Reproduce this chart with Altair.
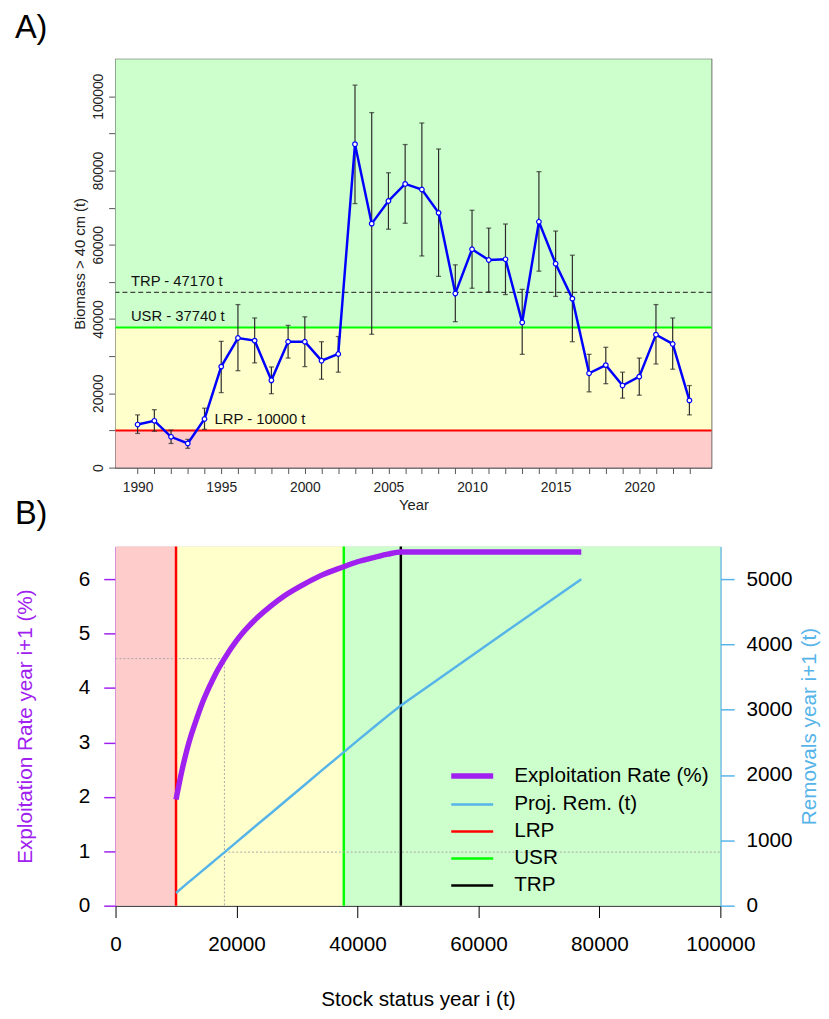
import altair as alt
import pandas as pd

FONT = "Liberation Sans"

# ---------------- Panel A data ----------------
years = list(range(1990, 2024))
biomass = [11600, 12600, 8300, 6500, 13100, 27200, 34900, 34200, 23500, 33900,
           33900, 28800, 30600, 87100, 65700, 71800, 76400, 74900, 68600, 46900,
           58800, 55900, 56100, 39100, 66200, 54900, 45500, 25400, 27600, 22100,
           24500, 35800, 33300, 18100]
upper = [14200, 15600, 10100, 7600, 16000, 34000, 43900, 40300, 27100, 38300,
         40600, 33900, 35300, 103000, 95600, 79400, 87000, 92800, 85800, 54600,
         69300, 64500, 65600, 48000, 79700, 63700, 57200, 30500, 32400, 25700,
         29500, 43900, 40300, 22100]
lower = [9200, 9800, 6500, 5200, 10300, 20200, 26100, 28200, 19900, 29500,
         27200, 23800, 25700, 71100, 35900, 64200, 65800, 57000, 51500, 39300,
         48300, 47300, 46600, 30500, 52900, 46100, 33900, 20400, 22600, 18700,
         19500, 27900, 26500, 14200]

ref_names = ["LRP", "USR", "TRP"]
ref_values = [10000, 37740, 47170]
ref_label_year = [1994.6, 1989.6, 1989.6]

zone_names = ["Critical", "Cautious", "Healthy"]
zone_colors = ["#FFCCCC", "#FFFFCC", "#CCFFCC"]

# ---------------- Panel B data ----------------
stock = [10000, 11070, 12430, 13000, 14330, 15500, 16500, 18000, 20000, 21400,
         23500, 25700, 28000, 31200, 34000, 37740, 40000, 43100, 45000, 47170,
         55000, 65000, 77000]
expl_rate = [1.95, 2.53, 3.11, 3.30, 3.72, 4.02, 4.25, 4.54, 4.87, 5.06,
             5.30, 5.51, 5.70, 5.91, 6.07, 6.23, 6.32, 6.41, 6.46, 6.50,
             6.50, 6.50, 6.50]
removals = [195, 280, 387, 429, 533, 623, 701, 817, 974, 1083,
            1246, 1416, 1596, 1844, 2064, 2351, 2528, 2763, 2907, 3066,
            3575, 4225, 5000]
guide_stock = [18000]
guide_rate = [4.54]
guide_removal = [820]

series_names = ["Exploitation Rate (%)", "Proj. Rem. (t)", "LRP", "USR", "TRP"]
series_colors = ["#A020F0", "#56B4E9", "#FF0000", "#00FF00", "#000000"]
series_widths = [5.5, 2.5, 2.5, 2.5, 2.5]

PURPLE = "#A020F0"
LBLUE = "#56B4E9"
A_YMAX = 110000
B_XMAX = 100000

# ---------------- tables ----------------
dfA = pd.DataFrame({"Year": years, "Biomass": biomass, "Upper": upper, "Lower": lower})
df_ref = pd.DataFrame({"series": ref_names, "value": ref_values, "lab_year": ref_label_year})
df_ref["label"] = df_ref["series"] + " - " + df_ref["value"].astype(str) + " t"
df_bandA = pd.DataFrame({"zone": zone_names,
                         "lo": [0, ref_values[0], ref_values[1]],
                         "hi": [ref_values[0], ref_values[1], A_YMAX]})
df_bandB = pd.DataFrame({"zone": zone_names,
                         "lo": [0, ref_values[0], ref_values[1]],
                         "hi": [ref_values[0], ref_values[1], B_XMAX]})
df_rate = pd.DataFrame({"stock": stock, "rate": expl_rate, "series": series_names[0]})
df_rem = pd.DataFrame({"stock": stock, "removal": removals, "series": series_names[1]})
df_guide = pd.DataFrame({"stock": guide_stock, "rate": guide_rate, "removal": guide_removal,
                         "x0": [0], "x1": [B_XMAX], "y0": [0]})

zone_fill = alt.Fill("zone:N", scale=alt.Scale(domain=zone_names, range=zone_colors), legend=None)

# ---------------- Panel A ----------------
xA_scale = alt.Scale(domain=[1988.68, 2024.32], nice=False, zero=False)
yA_scale = alt.Scale(domain=[0, A_YMAX], nice=False)
xA_axis = alt.Axis(title="Year", values=years, format="d",
                   labelExpr="datum.value % 5 == 0 ? datum.label : ''",
                   labelOverlap=False, labelFlush=False, tickSize=6, tickColor="#555555",
                   domainColor="#555555", labelFontSize=14, titleFontSize=15,
                   labelPadding=7, titlePadding=3, labelColor="#222222", titleColor="#222222")
yA_axis = alt.Axis(title="Biomass > 40 cm (t)", values=list(range(0, 110000, 10000)), format="d",
                   labelExpr="datum.value % 20000 == 0 ? datum.label : ''",
                   labelOverlap=False, labelAngle=270, labelAlign="center", labelBaseline="bottom",
                   tickSize=7, tickColor="#555555", domainColor="#555555",
                   labelFontSize=14, titleFontSize=15, labelPadding=3, titlePadding=4,
                   labelColor="#222222", titleColor="#222222")


def xA(field):
    return alt.X(field, type="quantitative", scale=xA_scale, axis=xA_axis)


def yA(field):
    return alt.Y(field, type="quantitative", scale=yA_scale, axis=yA_axis)


bandsA = alt.Chart(df_bandA).mark_rect().encode(y=yA("lo"), y2="hi", fill=zone_fill)
lrp_rule = alt.Chart(df_ref).transform_filter("datum.series == 'LRP'").mark_rule(
    strokeWidth=2, color="#FF0000").encode(y=yA("value"))
usr_rule = alt.Chart(df_ref).transform_filter("datum.series == 'USR'").mark_rule(
    strokeWidth=2, color="#00FF00").encode(y=yA("value"))
trp_rule = alt.Chart(df_ref).transform_filter("datum.series == 'TRP'").mark_rule(
    strokeWidth=1.2, strokeDash=[5, 3], color="#444444").encode(y=yA("value"))
labelsA = alt.Chart(df_ref).mark_text(align="left", baseline="alphabetic", dy=-7, fontSize=15,
                                      color="#111111").encode(
    x=xA("lab_year"), y=yA("value"), text="label:N")
errbars = alt.Chart(dfA).mark_rule(color="#2b2b2b", strokeWidth=1.2).encode(
    x=xA("Year"), y=yA("Lower"), y2="Upper")
cap_hi = alt.Chart(dfA).mark_tick(orient="horizontal", size=5, thickness=1.3, color="#2b2b2b").encode(
    x=xA("Year"), y=yA("Upper"))
cap_lo = alt.Chart(dfA).mark_tick(orient="horizontal", size=5, thickness=1.3, color="#2b2b2b").encode(
    x=xA("Year"), y=yA("Lower"))
lineA = alt.Chart(dfA).mark_line(color="#0000FF", strokeWidth=2.5).encode(x=xA("Year"), y=yA("Biomass"))
pointsA = alt.Chart(dfA).mark_point(filled=True, fill="white", stroke="#0000FF", strokeWidth=1.2,
                                    size=22, opacity=1).encode(x=xA("Year"), y=yA("Biomass"))

panelA = alt.layer(bandsA, trp_rule, usr_rule, lrp_rule, labelsA, errbars, cap_hi, cap_lo,
                   lineA, pointsA).properties(
    width=604, height=414,
    view=alt.ViewBackground(stroke="#555555", strokeWidth=1.3),
    title=alt.TitleParams("A)", anchor="start", frame="group", dx=-102, offset=-12,
                          fontSize=33, font=FONT, fontWeight="normal", baseline="alphabetic"))

# ---------------- Panel B ----------------
xB_scale = alt.Scale(domain=[0, B_XMAX], nice=False, zero=False)
xB_axis = alt.Axis(title="Stock status year i (t)", values=list(range(0, 100001, 20000)), format="d",
                   labelFlush=False, labelOverlap=False, tickSize=12, tickColor="black",
                   domainColor="black", labelFontSize=21, titleFontSize=21,
                   labelPadding=16, titlePadding=35, labelColor="black", titleColor="black")
yL_scale = alt.Scale(domain=[0, 6.6], nice=False)
yL_axis = alt.Axis(title="Exploitation Rate year i+1 (%)", orient="left", values=[0, 1, 2, 3, 4, 5, 6],
                   domainColor=PURPLE, tickColor=PURPLE, titleColor=PURPLE, labelColor="black",
                   domainWidth=1.5, tickWidth=1.5, tickSize=12, labelPadding=14, titlePadding=43,
                   labelFontSize=21, titleFontSize=21)
yR_scale = alt.Scale(domain=[0, 5500], nice=False)
yR_axis = alt.Axis(title="Removals year i+1 (t)", orient="right", values=[0, 1000, 2000, 3000, 4000, 5000],
                   format="d", domainColor=LBLUE, tickColor=LBLUE, titleColor=LBLUE, labelColor="black",
                   domainWidth=1.5, tickWidth=1.5, tickSize=14, labelPadding=12, titlePadding=7,
                   titleAngle=270, titleBaseline="top", labelFontSize=21, titleFontSize=21)


def xB(field):
    return alt.X(field, type="quantitative", scale=xB_scale, axis=xB_axis)


legend_spec = alt.Legend(
    title=None, orient="none", legendX=346, legendY=217, labelFontSize=21,
    labelFont=FONT, labelColor="black", labelLimit=0, symbolType="M-1.7,0L1.7,0",
    symbolSize=625, rowPadding=3.4, labelOffset=27, padding=0)
color_enc = alt.Color("series:N", scale=alt.Scale(domain=series_names, range=series_colors), legend=legend_spec)
sw_enc = alt.StrokeWidth("series:N",
                         scale=alt.Scale(type="ordinal", domain=series_names, range=series_widths),
                         legend=legend_spec)

df_refB = df_ref[["series", "value"]]

bandsB = alt.Chart(df_bandB).mark_rect().encode(x=xB("lo"), x2="hi", fill=zone_fill)
guide_v = alt.Chart(df_guide).mark_rule(color="#A8A8A8", strokeDash=[2, 2], strokeWidth=1).encode(
    x=xB("stock"), y=alt.Y("rate:Q", scale=yL_scale, axis=yL_axis), y2="y0")
guide_h = alt.Chart(df_guide).mark_rule(color="#A8A8A8", strokeDash=[2, 2], strokeWidth=1).encode(
    x=xB("x0"), x2="stock", y=alt.Y("rate:Q", scale=yL_scale, axis=yL_axis))
rulesB = alt.Chart(df_refB).mark_rule().encode(x=xB("value"), color=color_enc, strokeWidth=sw_enc)
erLine = alt.Chart(df_rate).mark_line(interpolate="monotone").encode(
    x=xB("stock"), y=alt.Y("rate:Q", scale=yL_scale, axis=yL_axis), color=color_enc, strokeWidth=sw_enc)

guide_r = alt.Chart(df_guide).mark_rule(color="#A8A8A8", strokeDash=[2, 2], strokeWidth=1).encode(
    x=xB("stock"), x2="x1", y=alt.Y("removal:Q", scale=yR_scale, axis=yR_axis))
remLine = alt.Chart(df_rem).mark_line().encode(
    x=xB("stock"), y=alt.Y("removal:Q", scale=yR_scale, axis=yR_axis), color=color_enc, strokeWidth=sw_enc)

left_group = alt.layer(bandsB, guide_v, guide_h, rulesB, erLine)
right_group = alt.layer(guide_r, remLine)

panelB = alt.layer(left_group, right_group).resolve_scale(y="independent").properties(
    width=613, height=364,
    view=alt.ViewBackground(stroke="#CCCCCC", strokeWidth=1),
    title=alt.TitleParams("B)", anchor="start", frame="group", dx=-102, offset=-16,
                          fontSize=33, font=FONT, fontWeight="normal", baseline="alphabetic"))

chart = alt.vconcat(panelA, panelB, spacing=80, bounds="flush").resolve_scale(
    color="independent", fill="independent", strokeWidth="independent"
).resolve_legend(color="independent", strokeWidth="independent").properties(
    padding={"left": 6, "top": -3, "right": 0, "bottom": 0}
).configure(font=FONT).configure_axis(
    grid=False, labelFont=FONT, titleFont=FONT, titleFontWeight="normal"
).configure_title(font=FONT, fontWeight="normal").configure_view(stroke=None)

chart.save("out.html", embed_options={"renderer": "svg", "actions": False})
